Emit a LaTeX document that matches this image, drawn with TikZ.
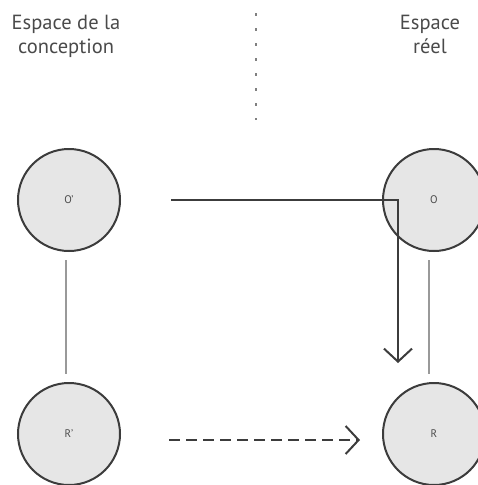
\documentclass[tikz,border=0pt]{standalone}
\usepackage{fontspec}
\setsansfont{PT Sans}
\usetikzlibrary{arrows.meta}
\definecolor{trait}{HTML}{3C3C3C}
\definecolor{fond}{HTML}{E6E6E6}
\definecolor{texte}{HTML}{4A4A4A}
\tikzset{
  espace/.style={draw=trait, line width=2pt, circle, fill=fond, minimum size=102pt, inner sep=0pt, text=texte, font=\sffamily\fontsize{11}{13}\selectfont},
  titre/.style={align=center, anchor=base, text=texte, font=\sffamily\fontsize{20.5}{24}\selectfont},
  lien/.style={draw=gray!80, line width=2pt}
}
\begin{document}
\begin{tikzpicture}[x=1pt, y=-1pt]
	\useasboundingbox (0,0) rectangle (478,485);
	\node[titre] (gauche) at (66, 53) {Espace de la\\conception};
	\node[titre] (droite) at (430, 53) {Espace\\réel};
	\coordinate (haut) at (256, 13);
	\coordinate (bas) at (256, 120);
	\draw[gray, line width=1.5pt, dash pattern=on 3pt off 12pt] (haut) -- (bas);
	\node[espace] (Op) at (69, 200) {O'};
	\node[espace] (O) at (434, 200) {O};
	\node[espace] (Rp) at (69, 434) {R'};
	\node[espace] (R) at (434, 434) {R};
	\draw[lien] ([xshift=-3pt, yshift=-8pt]Op.south) -- ([xshift=-3pt, yshift=8pt]Rp.north);
	\draw[lien] ([xshift=-5pt, yshift=-8pt]O.south) -- ([xshift=-5pt, yshift=8pt]R.north);
	\draw[trait, line width=2pt, -{Straight Barb[length=13pt, width=28pt, line width=2pt]}] ([xshift=50pt]Op.east) -| ([xshift=-36pt, yshift=19pt]R.north);
	\draw[trait, line width=2pt, dash pattern=on 11pt off 6pt, -{Straight Barb[length=13pt, width=28pt, line width=2pt]}] ([xshift=48pt, yshift=-6pt]Rp.east) -- ([xshift=-22pt, yshift=-6pt]R.west);
\end{tikzpicture}
\end{document}
